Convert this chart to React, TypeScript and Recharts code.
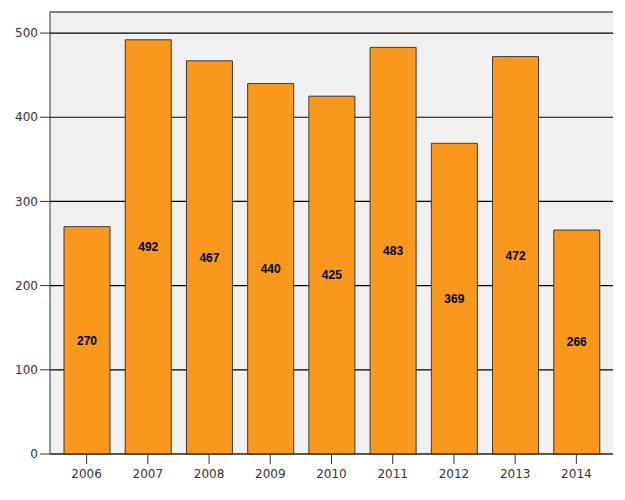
import React from 'react';
import { BarChart, Bar, XAxis, YAxis, CartesianGrid, LabelList } from 'recharts';

const years = ['2006', '2007', '2008', '2009', '2010', '2011', '2012', '2013', '2014'];
const counts = [270, 492, 467, 440, 425, 483, 369, 472, 266];
const yTicks = [0, 100, 200, 300, 400, 500];

const data = years.map((y, i) => ({ year: y, count: counts[i] }));

const font = { fontFamily: 'DejaVu Sans, Liberation Sans, sans-serif', fontSize: 12, fill: '#333' };

export default function App() {
  return (
    <div style={{ width: 617, height: 492 }}>
      <BarChart width={617} height={492} data={data} margin={{ top: 4, right: 12, left: 0, bottom: 16 }}>
        <CartesianGrid xAxisId="b" yAxisId="l" vertical={false} stroke="#000" strokeWidth={1.2} fill="#f0f0f0" />
        <XAxis
          xAxisId="b"
          dataKey="year"
          padding={{ left: 6, right: 6 }}
          tick={{ ...font, dy: 3 }}
          tickLine={{ stroke: '#333' }}
          tickSize={10}
          axisLine={{ stroke: '#333' }}
          height={30}
        />
        <XAxis xAxisId="t" orientation="top" dataKey="year" tick={false} tickLine={false} axisLine={{ stroke: '#444' }} height={0} />
        <YAxis
          yAxisId="l"
          domain={[0, 525]}
          ticks={yTicks}
          tick={font}
          tickLine={{ stroke: '#333' }}
          tickSize={10}
          axisLine={{ stroke: '#333' }}
          width={42}
        />
        <YAxis yAxisId="r" orientation="right" domain={[0, 525]} tick={false} tickLine={false} axisLine={{ stroke: '#444' }} width={0} />
        <Bar xAxisId="b" yAxisId="l" dataKey="count" fill="#F8981D" stroke="#3a3a3a" strokeWidth={1} barSize={46} isAnimationActive={false}>
          <LabelList dataKey="count" position="center" style={{ fontFamily: 'Liberation Sans, Arial, sans-serif', fontSize: 12, fontWeight: 'bold', fill: '#000' }} />
        </Bar>
      </BarChart>
    </div>
  );
}
